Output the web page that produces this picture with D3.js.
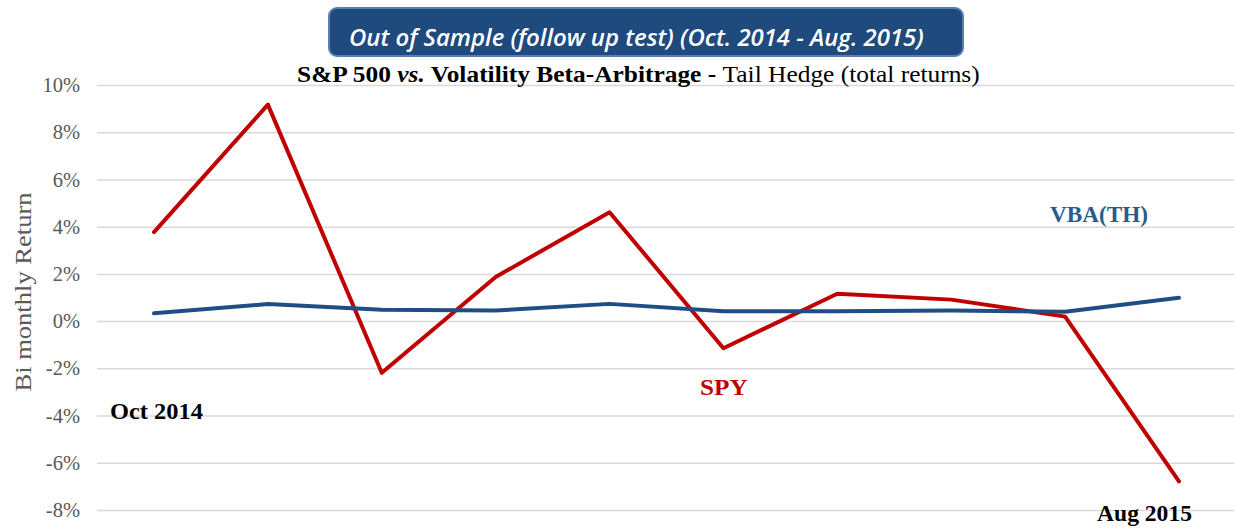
<!DOCTYPE html>
<html>
<head>
<meta charset="utf-8">
<script src="https://cdn.jsdelivr.net/npm/d3@7"></script>
<style>
  body { margin: 0; background: #fff; }
  svg { display: block; }
</style>
</head>
<body>
<svg id="vis" width="1234" height="529"></svg>
<script>
// data
var periods = ["P1", "P2", "P3", "P4", "P5", "P6", "P7", "P8", "P9", "P10"];
var spy = [3.77, 9.17, -2.19, 1.87, 4.61, -1.15, 1.16, 0.91, 0.19, -6.79];
var vba = [0.33, 0.72, 0.48, 0.45, 0.73, 0.42, 0.42, 0.45, 0.40, 0.99];
var yTicks = [-8, -6, -4, -2, 0, 2, 4, 6, 8, 10];

var width = 1234;
var height = 529;
var serif = "'Liberation Serif', 'DejaVu Serif', serif";

var svg = d3.select("#vis");

var x = d3.scalePoint().domain(periods).range([154, 1179]);
var y = d3.scaleLinear().domain([-8, 10]).range([510, 85]);

// stretch a text horizontally so it covers [x0, x0 + w]
function fit(sel, x0, w) {
    var bw = sel.node().getBBox().width;
    var k = w / bw;
    sel.attr("transform", "translate(" + x0 + ",0) scale(" + k + ",1) translate(" + (-x0) + ",0)");
}

// grid lines
var yAxis = svg.append("g")
    .attr("transform", "translate(97,0)")
    .call(d3.axisLeft(y).tickValues(yTicks).tickSize(-(width - 97)).tickPadding(17)
        .tickFormat(function (d) { return d + "%"; }));
yAxis.select(".domain").remove();
yAxis.selectAll(".tick line")
    .attr("stroke", "#d9d9d9")
    .attr("stroke-width", 1.5);
yAxis.selectAll(".tick text")
    .attr("fill", "#595959")
    .style("font-family", serif)
    .style("font-size", "20.5px");

// axis title
svg.append("text")
    .attr("transform", "translate(31,292) rotate(-90)")
    .attr("text-anchor", "middle")
    .attr("fill", "#595959")
    .attr("textLength", 199)
    .attr("lengthAdjust", "spacingAndGlyphs")
    .style("font-family", serif)
    .style("font-size", "24px")
    .text("Bi monthly Return");

// lines
var line = d3.line()
    .x(function (d, i) { return x(periods[i]); })
    .y(function (d) { return y(d); });

svg.append("path")
    .datum(spy)
    .attr("fill", "none")
    .attr("stroke", "#c00000")
    .attr("stroke-width", 4)
    .attr("stroke-linejoin", "round")
    .attr("stroke-linecap", "round")
    .attr("d", line);

svg.append("path")
    .datum(vba)
    .attr("fill", "none")
    .attr("stroke", "#1f4e85")
    .attr("stroke-width", 4)
    .attr("stroke-linejoin", "round")
    .attr("stroke-linecap", "round")
    .attr("d", line);

// title box
svg.append("rect")
    .attr("x", 329)
    .attr("y", 8)
    .attr("width", 634)
    .attr("height", 48)
    .attr("rx", 8)
    .attr("fill", "#1f4a7e")
    .attr("stroke", "#5a7fb0")
    .attr("stroke-width", 2);

var title = svg.append("text")
    .attr("x", 349)
    .attr("y", 46)
    .attr("fill", "#fff")
    .style("font-family", "'Open Sans', sans-serif")
    .style("font-style", "italic")
    .style("font-weight", "600")
    .style("font-size", "22.5px")
    .text("Out of Sample (follow up test) (Oct. 2014 - Aug. 2015)");
fit(title, 349, 575);

// subtitle
var sub = svg.append("text")
    .attr("x", 297)
    .attr("y", 82)
    .attr("fill", "#000")
    .style("font-family", serif)
    .style("font-size", "23.5px");
sub.append("tspan").style("font-weight", "bold").text("S&P 500 ");
sub.append("tspan").style("font-weight", "bold").style("font-style", "italic").text("vs.");
sub.append("tspan").style("font-weight", "bold").text(" Volatility Beta-Arbitrage - ");
sub.append("tspan").text("Tail Hedge (total returns)");
fit(sub, 297, 683);

// annotations
function label(tx, ty, w, size, txt, color) {
    var t = svg.append("text")
        .attr("x", tx)
        .attr("y", ty)
        .attr("fill", color)
        .style("font-family", serif)
        .style("font-weight", "bold")
        .style("font-size", size + "px")
        .text(txt);
    fit(t, tx, w);
}
label(110, 419, 93, 24, "Oct 2014", "#000");
label(700, 395, 48, 23, "SPY", "#c00000");
label(1050, 222, 98, 23, "VBA(TH)", "#2b5a8f");
label(1097, 521, 95, 24, "Aug 2015", "#000");
</script>
</body>
</html>
